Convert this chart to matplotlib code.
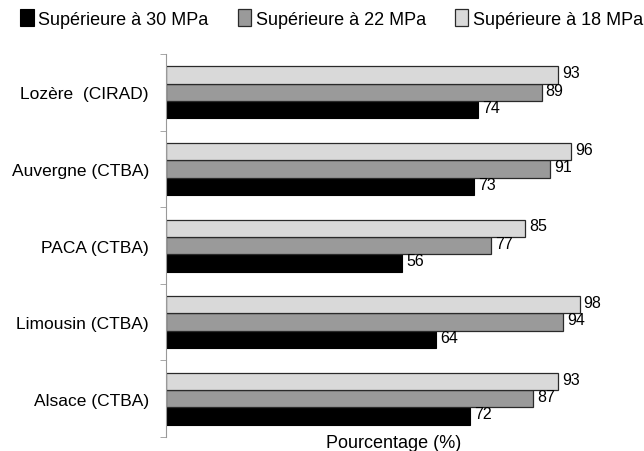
import numpy as np
import matplotlib
matplotlib.use("Agg")
from matplotlib import pyplot as plt

# données
regions = ["Lozère  (CIRAD)", "Auvergne (CTBA)", "PACA (CTBA)", "Limousin (CTBA)", "Alsace (CTBA)"]
sup30 = [74, 73, 56, 64, 72]
sup22 = [89, 91, 77, 94, 87]
sup18 = [93, 96, 85, 98, 93]
series_labels = ["Supérieure à 30 MPa", "Supérieure à 22 MPa", "Supérieure à 18 MPa"]

plt.rcParams['font.family'] = ['Liberation Sans', 'DejaVu Sans']

fig = plt.figure(figsize=(6.44, 4.52), dpi=100)
ax = fig.add_axes([0.257, 0.031, 0.656, 0.847])

y = np.arange(len(regions))
h = 0.226
b30 = ax.barh(y + h, sup30, height=h, color="black", edgecolor="black", linewidth=0.8, label=series_labels[0])
b22 = ax.barh(y, sup22, height=h, color="#9a9a9a", edgecolor="#2a2a2a", linewidth=0.9, label=series_labels[1])
b18 = ax.barh(y - h, sup18, height=h, color="#d9d9d9", edgecolor="#2a2a2a", linewidth=0.9, label=series_labels[2])

for bars, vals in [(b30, sup30), (b22, sup22), (b18, sup18)]:
    for bar, v in zip(bars, vals):
        ax.text(bar.get_width() + 1.0, bar.get_y() + bar.get_height() / 2 - 0.03, str(v),
                va="center", ha="left", fontsize=11.5)

ax.set_xlim(0, 100)
ax.set_ylim(len(regions) - 0.5, -0.5)
ax.set_yticks(y)
ax.set_yticklabels(regions, fontsize=12.5)
ax.set_yticks(np.arange(-0.5, len(regions), 1), minor=True)
ax.tick_params(axis="y", which="major", length=0, pad=12)
ax.tick_params(axis="y", which="minor", length=4, color="#999999")
ax.set_xticks([])
for s in ["top", "right", "bottom"]:
    ax.spines[s].set_visible(False)
ax.spines["left"].set_color("#999999")
ax.set_xlabel("Pourcentage (%)", fontsize=13)
ax.xaxis.set_label_coords(0.54, -0.015, transform=ax.transAxes)
ax.xaxis.label.set_va("center")

handles = [b30, b22, b18]
fig.legend(handles, series_labels, loc="upper left", bbox_to_anchor=(0.012, 1.005), ncol=3,
           frameon=False, fontsize=13, handlelength=0.75, handleheight=1.0,
           handletextpad=0.25, columnspacing=1.6, borderaxespad=0.3)

fig.savefig("out.png", dpi=100)
